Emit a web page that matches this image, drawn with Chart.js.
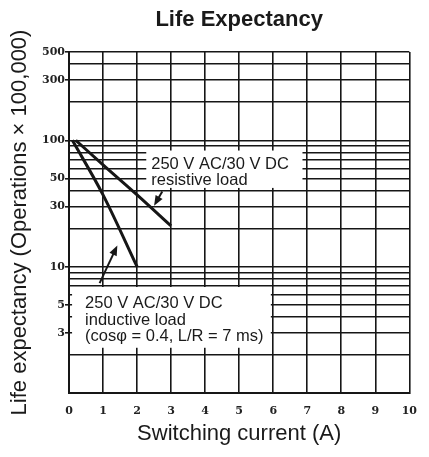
<!DOCTYPE html>
<html>
<head>
<meta charset="utf-8">
<script src="https://cdn.jsdelivr.net/npm/chart.js@4"></script>
<style>
  html, body { margin: 0; padding: 0; background: #fff; }
</style>
</head>
<body>
<canvas id="myChart" width="429" height="457"></canvas>
<script>
// switching current (A) against life (x 100,000 operations)
const resistiveCurrent = [0.2, 1, 2, 3];
const resistiveLife = [100, 64, 37, 21];
const inductiveCurrent = [0.1, 1, 2];
const inductiveLife = [100, 37, 10];

const xTickValues = [0, 1, 2, 3, 4, 5, 6, 7, 8, 9, 10];
const yGridValues = [1, 2, 3, 4, 5, 6, 7, 8, 9, 10, 20, 30, 40, 50, 60, 70, 80, 90, 100, 200, 300, 400, 500];
const yTickLabels = [3, 5, 10, 30, 50, 100, 300, 500];

const resistiveNote = ['250 V AC/30 V DC', 'resistive load'];
const inductiveNote = ['250 V AC/30 V DC', 'inductive load', '(cos\u03c6 = 0.4, L/R = 7 ms)'];

const ink = '#161616';

// white label boxes and arrows, placed in data units
const notesPlugin = {
  id: 'notes',
  beforeDatasetsDraw(chart) {
    const {ctx, scales: {x, y}} = chart;
    const box = (x0, y0, x1, y1, lines, first, gap) => {
      const l = x.getPixelForValue(x0), t = y.getPixelForValue(y0);
      const r = x.getPixelForValue(x1), b = y.getPixelForValue(y1);
      ctx.save();
      ctx.fillStyle = '#fff';
      ctx.fillRect(l, t, r - l, b - t);
      ctx.fillStyle = '#1a1a1a';
      ctx.font = '16.5px "Liberation Sans", Arial, sans-serif';
      ctx.textBaseline = 'alphabetic';
      lines.forEach((s, i) => ctx.fillText(s, l + first[0], t + first[1] + i * gap));
      ctx.restore();
    };
    box(2.27, 83, 6.86, 42, resistiveNote, [5, 18], 16);
    box(0.09, 6.9, 5.93, 2.28, inductiveNote, [13, 21], 16.5);
  },
  afterDatasetsDraw(chart) {
    const {ctx, scales: {x, y}} = chart;
    const arrow = (ax, ay, bx, by) => {
      const x1 = x.getPixelForValue(ax), y1 = y.getPixelForValue(ay);
      const x2 = x.getPixelForValue(bx), y2 = y.getPixelForValue(by);
      const ang = Math.atan2(y2 - y1, x2 - x1);
      ctx.save();
      ctx.strokeStyle = ink;
      ctx.fillStyle = ink;
      ctx.lineWidth = 2;
      ctx.beginPath();
      ctx.moveTo(x1, y1);
      ctx.lineTo(x2 - 6 * Math.cos(ang), y2 - 6 * Math.sin(ang));
      ctx.stroke();
      ctx.beginPath();
      ctx.moveTo(x2, y2);
      ctx.lineTo(x2 - 10 * Math.cos(ang) + 4 * Math.sin(ang), y2 - 10 * Math.sin(ang) - 4 * Math.cos(ang));
      ctx.lineTo(x2 - 10 * Math.cos(ang) - 4 * Math.sin(ang), y2 - 10 * Math.sin(ang) + 4 * Math.cos(ang));
      ctx.closePath();
      ctx.fill();
      ctx.restore();
    };
    arrow(2.74, 39.4, 2.5, 30.4);
    arrow(0.9, 7.4, 1.42, 14.7);
  }
};

window.onload = function () {
  const ctx = document.getElementById('myChart').getContext('2d');
  new Chart(ctx, {
    type: 'line',
    data: {
      datasets: [{
        label: 'resistive load',
        data: resistiveCurrent.map((c, i) => ({x: c, y: resistiveLife[i]})),
        borderColor: ink,
        borderWidth: 3,
        pointRadius: 0,
        cubicInterpolationMode: 'monotone',
        fill: false
      }, {
        label: 'inductive load',
        data: inductiveCurrent.map((c, i) => ({x: c, y: inductiveLife[i]})),
        borderColor: ink,
        borderWidth: 3,
        pointRadius: 0,
        cubicInterpolationMode: 'monotone',
        fill: false
      }]
    },
    options: {
      responsive: false,
      animation: false,
      layout: {padding: {left: 0, right: 16, top: 0, bottom: 0}},
      plugins: {
        legend: {display: false},
        tooltip: {enabled: false},
        title: {
          display: true,
          text: 'Life Expectancy',
          fullSize: false,
          color: '#1a1a1a',
          font: {family: '"Liberation Sans", Arial, sans-serif', size: 22, weight: 'bold', lineHeight: 1.2},
          padding: {top: 7, bottom: 18.6}
        }
      },
      scales: {
        x: {
          type: 'linear',
          min: 0,
          max: 10,
          afterBuildTicks: (s) => { s.ticks = xTickValues.map(v => ({value: v})); },
          afterFit: (s) => { s.height = 64; },
          grid: {color: ink, lineWidth: 1.6, drawTicks: false},
          border: {color: ink, width: 2},
          ticks: {
            padding: 12,
            color: '#222',
            font: {family: '"DejaVu Serif", serif', size: 11, weight: 'bold'}
          },
          title: {
            display: true,
            text: 'Switching current (A)',
            color: '#1a1a1a',
            font: {family: '"Liberation Sans", Arial, sans-serif', size: 22, lineHeight: 1.2},
            padding: {top: 0, bottom: 10}
          }
        },
        y: {
          type: 'logarithmic',
          min: 1,
          max: 500,
          afterBuildTicks: (s) => { s.ticks = yGridValues.map(v => ({value: v})); },
          afterFit: (s) => { s.width = 69; },
          grid: {
            color: ink,
            lineWidth: 1.6,
            tickLength: 4,
            tickColor: (c) => yTickLabels.includes(c.tick && c.tick.value) ? ink : 'rgba(0,0,0,0)'
          },
          border: {color: ink, width: 2},
          ticks: {
            autoSkip: false,
            padding: 0,
            color: '#222',
            font: {family: '"DejaVu Serif", serif', size: 11, weight: 'bold'},
            callback: (v) => yTickLabels.includes(v) ? String(v) : ''
          },
          title: {
            display: true,
            text: 'Life expectancy (Operations \u00d7 100,000)',
            color: '#1a1a1a',
            font: {family: '"Liberation Sans", Arial, sans-serif', size: 22, lineHeight: 1.2},
            padding: {top: 7, bottom: 0}
          }
        }
      }
    },
    plugins: [notesPlugin]
  });
};
</script>
</body>
</html>
